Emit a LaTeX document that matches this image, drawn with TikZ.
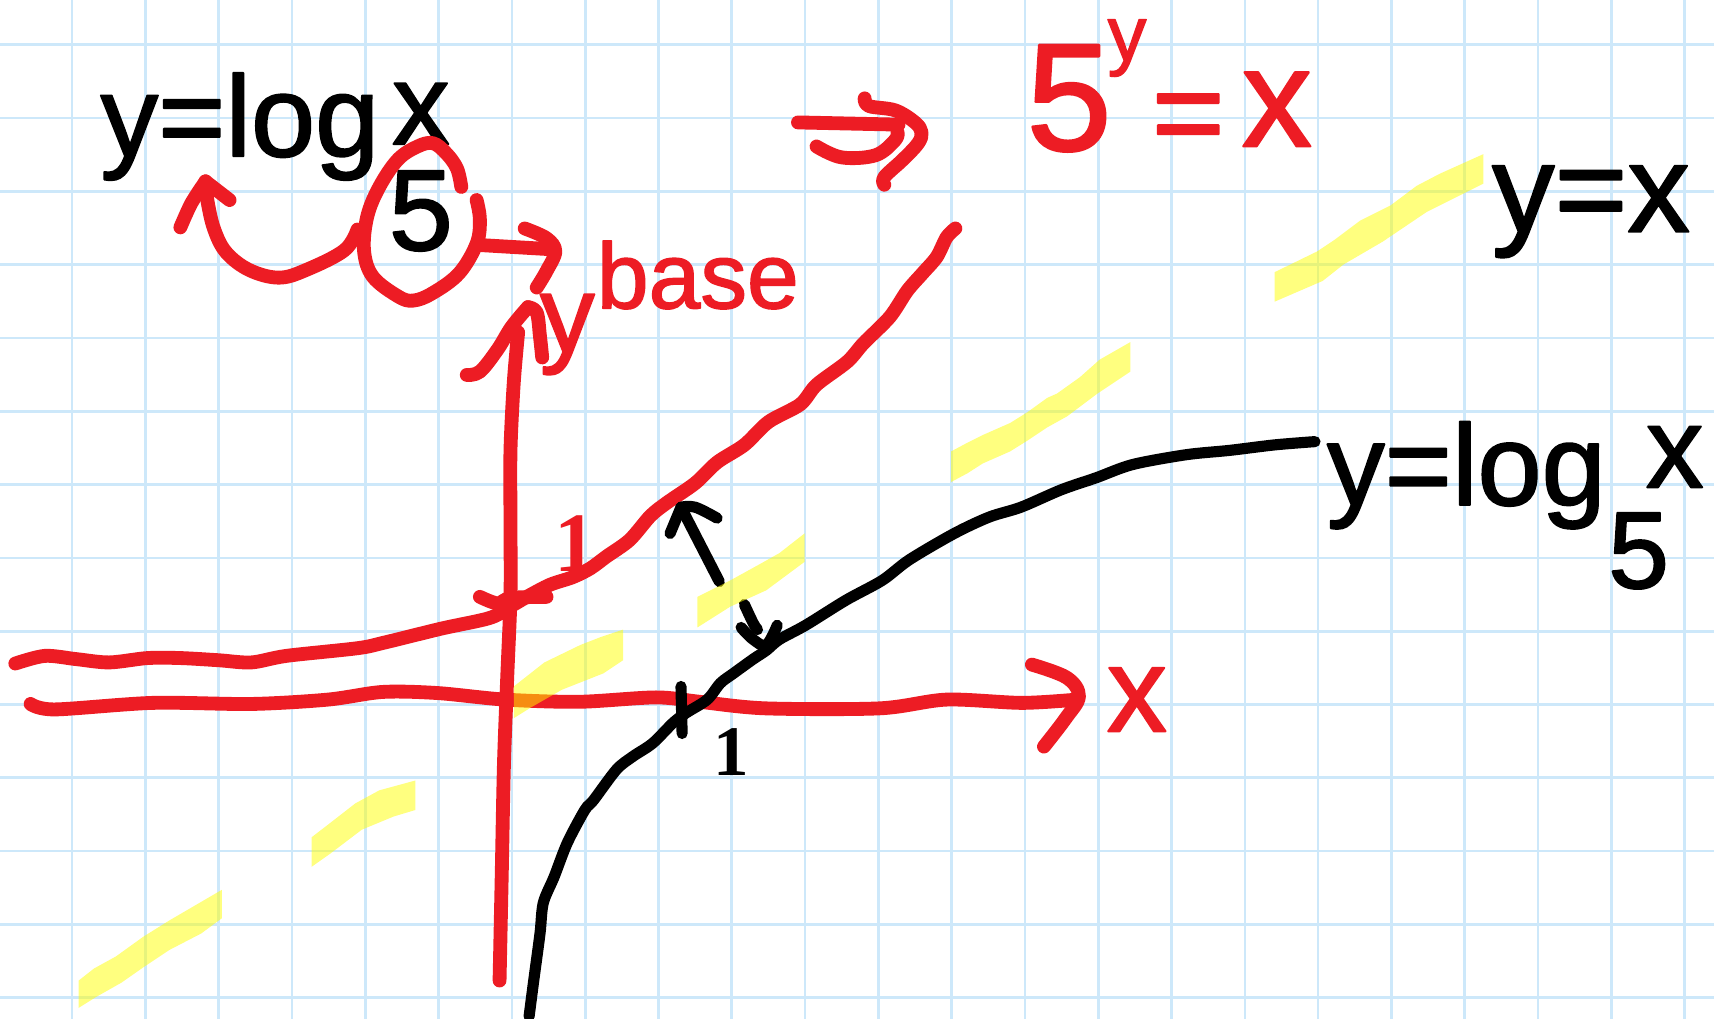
\documentclass[tikz,border=0pt]{standalone}
\usepackage{fontspec}
\newfontfamily\hand[FakeBold=1.6]{Liberation Sans}
\newfontfamily\onefont{Liberation Serif}
\definecolor{gridblue}{RGB}{205,232,250}
\definecolor{penred}{RGB}{237,28,36}
\definecolor{hlyellow}{RGB}{255,255,0}
\newcommand\myfs[1]{\fontsize{#1}{#1}\selectfont}
\begin{document}
\begin{tikzpicture}[x=0.02cm,y=-0.02cm,line cap=round,line join=round,
  redpen/.style={draw=penred,line width=7.2pt},
  blackpen/.style={draw=black,line width=5.8pt},
  hilite/.style={fill=hlyellow,fill opacity=0.5,draw=none},
  gridline/.style={draw=gridblue,line width=1.4pt},
  blk/.style={inner sep=0pt,outer sep=0pt,text=black},
  rd/.style={inner sep=0pt,outer sep=0pt,text=penred}]
\useasboundingbox (0,0) rectangle (1568,932);
\fill[white] (0,0) rectangle (1568,932);
% grid
\foreach \i in {0,...,22}{\draw[gridline] ({66+67.05*\i},0) -- ({66+67.05*\i},932);}
\foreach \j in {0,...,13}{\draw[gridline] (0,{41+67.05*\j}) -- (1568,{41+67.05*\j});}

% ---------- red axes ----------
\coordinate (ytip) at (483,281);
\coordinate (xtip) at (987,637);
\draw[redpen] plot[smooth,tension=0.5] coordinates {(457,897) (459,800) (461,700) (464,620) (467,545) (467,480) (467,412) (470,350) (474,304)};
\draw[redpen] plot[smooth,tension=0.6] coordinates {(427,343) (439,340) (455,320) (468,299) (ytip)};
\draw[redpen] plot[smooth,tension=0.6] coordinates {(ytip) (491,286) (494,308) (496,327)};
\draw[redpen] plot[smooth,tension=0.5] coordinates {(28,644) (50,649) (140,643) (230,644) (300,640) (350,633) (400,634) (462,640) (530,642) (600,638) (640,642) (700,648) (805,648) (866,640) (935,643) (985,640)};
\draw[redpen] plot[smooth,tension=0.6] coordinates {(944,608) (976,620) (xtip) (975,657) (955,683)};
% tick at 1 on y axis
\draw[redpen] plot[smooth,tension=0.5] coordinates {(439,546) (455,552) (467,547) (500,546)};

% ---------- red exponential curve ----------
\draw[redpen] plot[smooth,tension=0.5] coordinates {(14,607) (41,600) (70,603) (100,606) (135,602) (165,602) (200,604) (230,606) (262,600) (327,593) (351,588) (404,575) (449,565) (470,553) (482,546) (503,535) (524,528) (540,520) (555,509) (576,494) (595,472) (610,460) (636,442) (656,423) (681,407) (703,386) (732,370) (747,352) (775,331) (790,314) (814,290) (830,266) (844,250) (857,235) (866,217) (874,209)};

% ---------- black log curve ----------
\draw[blackpen] plot[smooth,tension=0.5] coordinates {(484,930) (488,899) (494,854) (497,826) (507,802) (519,771) (535,741) (543,732) (564,704) (579,692) (597,680) (616,661) (628,652) (647,640) (659,625) (671,616) (689,603) (701,595) (713,585) (737,572) (774,549) (807,531) (832,512) (873,488) (905,473) (934,464) (971,448) (1003,437) (1036,425) (1085,416) (1125,412) (1166,407) (1203,404)};
% tick at 1 on x axis
\draw[blackpen] (623,628) -- (624,671);
% reflection arrow
\coordinate (refltip) at (623,464);
\draw[blackpen] (658,532) -- (refltip);
\draw[blackpen] (613,488) -- (refltip);
\draw[blackpen] plot[smooth,tension=0.6] coordinates {(refltip) (636,464) (656,474)};
\draw[blackpen] plot[smooth,tension=0.6] coordinates {(681,553) (689,570) (693,576)};
\draw[blackpen] plot[smooth,tension=0.6] coordinates {(678,574) (689,585) (701,590) (711,572)};

% ---------- texts ----------
\node[blk,anchor=base west,font=\hand\myfs{60}] (eqA) at (92,143) {y=log};
\node[blk,font=\hand\myfs{60}] (eqAx) at (385,104) {x};
\node[blk,font=\hand\myfs{60}] (eqAb) at (385,193) {5};

\node[blk,anchor=base west,font=\hand\myfs{65}] (eqB) at (1365,212) {y=x};

\node[blk,anchor=base west,font=\hand\myfs{60}] (eqC) at (1214,462) {y=log};
\node[blk,font=\hand\myfs{60}] (eqCx) at (1532,418) {x};
\node[blk,font=\hand\myfs{57}] (eqCb) at (1499,504) {5};

\node[rd,font=\hand\myfs{79.7}] (r5) at (978,90) {5};
\node[rd,font=\hand\myfs{40.4}] (ry) at (1031,44) {y};
\node[rd,font=\hand\myfs{65}] (req) at (1087,114) {=};
\node[rd,font=\hand\myfs{73}] (rx) at (1168,100) {x};

\node[rd,anchor=base west,font=\hand\myfs{48.5}] (base) at (546,282) {base};
\node[rd,font=\hand\myfs{57}] (ylab) at (519,306) {y};
\node[rd,font=\hand\myfs{62.6}] (xlab) at (1040,640) {x};
\node[rd,font=\onefont\bfseries\myfs{44}] (oneR) at (527,497) {1};
\node[blk,font=\onefont\bfseries\myfs{37}] (oneB) at (669,688) {1};

% ---------- red annotations top ----------
% loop around the base 5
\draw[redpen] plot[smooth,tension=0.6] coordinates {(422,171) (418,154) (408,140) (396,131) (382,134) (364,146) (347,171) (336,198) (333,229) (341,253) (364,271) (378,275) (396,268) (420,250) (436,223) (439,201) (436,183)};
% tail to "base"
\coordinate (btip) at (508,230);
\draw[redpen] plot[smooth,tension=0.5] coordinates {(436,224) (470,226) (504,228)};
\draw[redpen] plot[smooth,tension=0.6] coordinates {(480,209) (500,218) (btip) (500,248) (491,263)};
% arrow to y
\coordinate (ytipA) at (188,166);
\draw[redpen] plot[smooth,tension=0.6] coordinates {(327,210) (315,229) (280,247) (255,254) (228,247) (207,231) (196,210) (190,185) (ytipA)};
\draw[redpen] plot[smooth,tension=0.5] coordinates {(165,208) (175,186) (ytipA)};
\draw[redpen] (ytipA) -- (210,183);
% implication arrow
\draw[redpen] (730,112) -- (822,114);
\draw[redpen] plot[smooth,tension=0.6] coordinates {(747,134) (770,144) (801,142) (819,128) (821,121)};
\draw[redpen] plot[smooth,tension=0.6] coordinates {(791,90) (795,97) (819,101) (837,112) (843,121) (840,131) (826,146) (809,162) (809,169)};

% ---------- highlighter strokes ----------
\fill[hilite] (1166,249) -- (1205,230) -- (1220,220) -- (1244,202) -- (1272,188) -- (1296,170) -- (1317,159) -- (1357,141) -- (1357,168) -- (1305,194) -- (1265,221) -- (1229,242) -- (1210,257) -- (1166,276) -- cycle;
\fill[hilite] (870,413) -- (885,405) -- (899,398) -- (924,387) -- (940,377) -- (958,364) -- (967,360) -- (988,345) -- (1006,329) -- (1034,313) -- (1034,340) -- (1004,360) -- (976,381) -- (958,391) -- (940,403) -- (924,413) -- (899,424) -- (885,433) -- (870,441) -- cycle;
\fill[hilite] (638,546) -- (668,531) -- (697,515) -- (713,506) -- (736,488) -- (736,514) -- (701,540) -- (668,555) -- (638,574) -- cycle;
\fill[hilite] (470,628) -- (498,606) -- (531,590) -- (549,583) -- (570,576) -- (570,604) -- (552,616) -- (514,631) -- (486,647) -- (470,657) -- cycle;
\fill[hilite] (285,766) -- (298,756) -- (325,735) -- (347,723) -- (380,714) -- (380,741) -- (360,747) -- (331,759) -- (302,781) -- (285,793) -- cycle;
\fill[hilite] (72,897) -- (86,886) -- (106,875) -- (131,857) -- (155,842) -- (179,828) -- (203,814) -- (203,840) -- (184,854) -- (155,869) -- (131,885) -- (111,899) -- (88,912) -- (72,922) -- cycle;
\end{tikzpicture}
\end{document}
